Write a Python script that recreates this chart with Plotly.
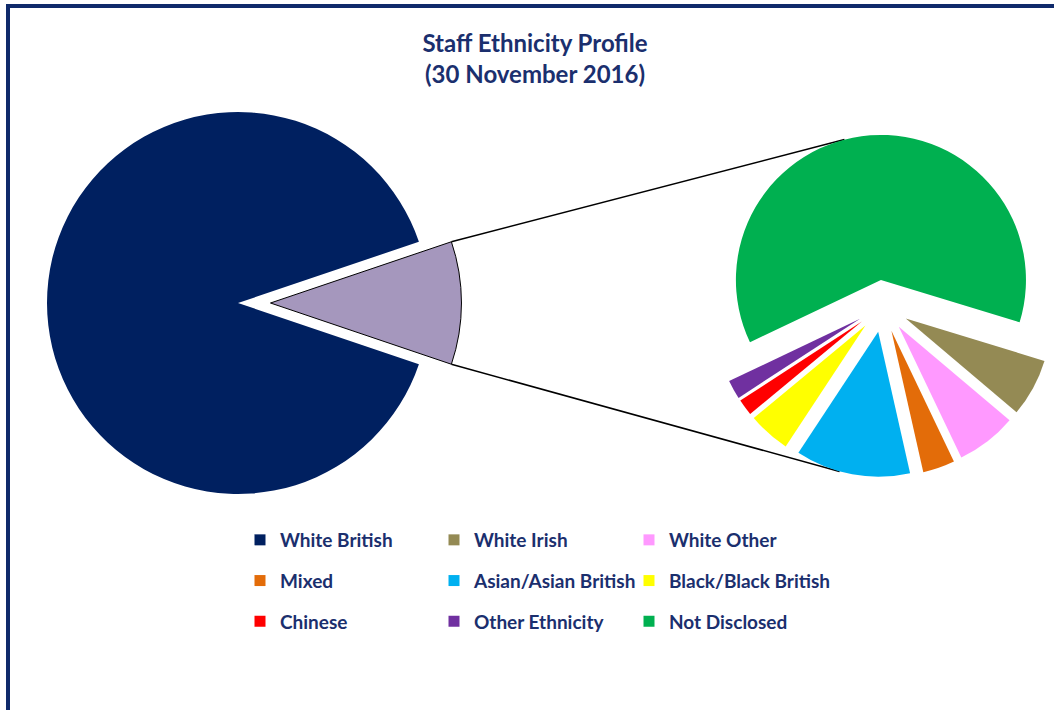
import math
import plotly.graph_objects as go

W, H = 1054, 710

# ---------------- data ----------------
categories = ["White British", "White Irish", "White Other", "Mixed",
              "Asian/Asian British", "Black/Black British", "Chinese",
              "Other Ethnicity", "Not Disclosed"]
values = [89.6, 0.67, 0.70, 0.37, 1.33, 0.49, 0.19, 0.22, 6.42]
colors = ["#002060", "#948A54", "#FF99FF", "#E36C09", "#00B0F0",
          "#FFFF00", "#FF0000", "#7030A0", "#00B050"]
other_label = "Other"
other_color = "#A597BD"
legend_columns = [["White British", "Mixed", "Chinese"],
                  ["White Irish", "Asian/Asian British", "Other Ethnicity"],
                  ["White Other", "Black/Black British", "Not Disclosed"]]
title_lines = ["Staff Ethnicity Profile", "(30 November 2016)"]

TEXT = "#1B2F6E"
FONT = "Lato"

# ---------------- geometry (pixels) ----------------
main_c = (238.0, 303.0)
main_r = 191.0
main_pull = 0.17
sec_c = (884.0, 306.0)
sec_r = 146.0
sec_pull = 0.18
sec_start = 17.0  # degrees clockwise from 3 o'clock where the first small slice starts


def domain(c, r, pull):
    half = r * (1 + pull)
    return dict(x=[max(0, (c[0] - half) / W), min(1, (c[0] + half) / W)],
                y=[max(0, 1 - (c[1] + half) / H), min(1, 1 - (c[1] - half) / H)])


total = sum(values)
sub_vals = values[1:]
sub_labels = categories[1:]
sub_colors = colors[1:]
other_val = sum(sub_vals)
frac_other = other_val / total

fig = go.Figure()

# main pie: Other (first), then White British
fig.add_trace(go.Pie(
    labels=[other_label, categories[0]],
    values=[other_val, values[0]],
    marker=dict(colors=[other_color, colors[0]],
                line=dict(color=["#000000", colors[0]], width=[1, 0])),
    pull=[main_pull, 0],
    sort=False, direction="clockwise",
    rotation=90 - frac_other * 180,
    textinfo="none", hoverinfo="label+percent",
    showlegend=False,
    domain=domain(main_c, main_r, main_pull),
))

# secondary pie
sec_dom = domain(sec_c, sec_r, sec_pull)
fig.add_trace(go.Pie(
    labels=sub_labels, values=sub_vals,
    marker=dict(colors=sub_colors, line=dict(width=0)),
    pull=sec_pull,
    sort=False, direction="clockwise",
    rotation=90 + sec_start,
    textinfo="none", hoverinfo="label+value",
    showlegend=False,
    domain=sec_dom,
))
# effective radius / centre after domain clipping
bw_ = (sec_dom["x"][1] - sec_dom["x"][0]) * W
bh_ = (sec_dom["y"][1] - sec_dom["y"][0]) * H
sec_r = min(bw_, bh_) / (2 + 2 * sec_pull)
sec_c = ((sec_dom["x"][0] + sec_dom["x"][1]) / 2 * W, (1 - (sec_dom["y"][0] + sec_dom["y"][1]) / 2) * H)

# ---------------- connector lines ----------------
half = frac_other * math.pi
apex = (main_c[0] + main_pull * main_r, main_c[1])
p_top = (apex[0] + main_r * math.cos(half), apex[1] - main_r * math.sin(half))
p_bot = (apex[0] + main_r * math.cos(half), apex[1] + main_r * math.sin(half))

slices = []
acc = sec_start
for v in sub_vals:
    span = v / other_val * 360
    mid = math.radians(acc + span / 2)
    cc = (sec_c[0] + sec_pull * sec_r * math.cos(mid), sec_c[1] + sec_pull * sec_r * math.sin(mid))
    slices.append((acc, acc + span, cc))
    acc += span


def tangent(P, upper):
    for a0, a1, C in slices:
        vx, vy = C[0] - P[0], C[1] - P[1]
        d = math.hypot(vx, vy)
        base = math.atan2(vy, vx)
        al = math.asin(sec_r / d)
        dirn = base - al if upper else base + al
        L = math.sqrt(d * d - sec_r * sec_r)
        T = (P[0] + L * math.cos(dirn), P[1] + L * math.sin(dirn))
        ang = math.degrees(math.atan2(T[1] - C[1], T[0] - C[0]))
        for k in (-360, 0, 360, 720):
            if a0 <= ang + k <= a1:
                return T
    return None


shapes = []
for P, up in ((p_top, True), (p_bot, False)):
    T = tangent(P, up)
    if T:
        shapes.append(dict(type="line", xref="paper", yref="paper",
                           x0=P[0] / W, y0=1 - P[1] / H, x1=T[0] / W, y1=1 - T[1] / H,
                           line=dict(color="#000000", width=1.5), layer="below"))

# border (top and left edges of the chart frame)
NAVY = "#0F2A6B"
shapes.append(dict(type="line", xref="paper", yref="paper", x0=6 / W, x1=1, y0=1 - 6 / H, y1=1 - 6 / H,
                   line=dict(color=NAVY, width=4)))
shapes.append(dict(type="line", xref="paper", yref="paper", x0=8 / W, x1=8 / W, y0=0, y1=1 - 4 / H,
                   line=dict(color=NAVY, width=4)))

# ---------------- legend (three columns) ----------------
col_x = [240, 434, 629]
leg_top = 521
legend_names = ["legend", "legend2", "legend3"]
for ci, col in enumerate(legend_columns):
    for lab in col:
        fig.add_trace(go.Scatter(
            x=[None], y=[None], mode="markers", name=lab,
            marker=dict(symbol="square", size=11, color=colors[categories.index(lab)]),
            legend=legend_names[ci], legendgroup=lab, showlegend=True, hoverinfo="skip"))

legend_common = dict(xanchor="left", yanchor="top", orientation="v", traceorder="grouped",
                     tracegroupgap=13, bgcolor="rgba(0,0,0,0)", borderwidth=0,
                     font=dict(family=FONT, size=19, color=TEXT, weight="bold"))
layout_legends = {}
for ci, name in enumerate(legend_names):
    layout_legends[name] = dict(x=col_x[ci] / W, y=1 - leg_top / H, **legend_common)

fig.update_layout(
    width=W, height=H,
    margin=dict(l=0, r=0, t=0, b=0, pad=0),
    paper_bgcolor="white", plot_bgcolor="rgba(0,0,0,0)",
    xaxis=dict(visible=False), yaxis=dict(visible=False),
    title=dict(text="<br>".join(title_lines), x=535 / W, xref="container", xanchor="center",
               y=1 - 52 / H, yref="container", yanchor="top",
               font=dict(family=FONT, size=24, color=TEXT, weight="bold")),
    shapes=shapes,
    **layout_legends,
)

fig.write_html("out.html")
